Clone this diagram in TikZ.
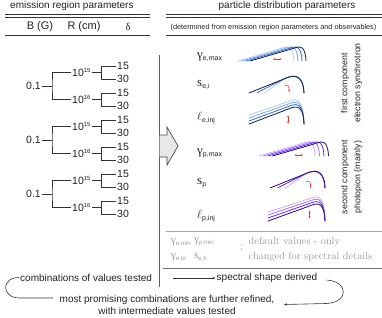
\documentclass[tikz,border=0pt]{standalone}
\usepackage{fontspec}
\setsansfont{Liberation Sans}
\newfontfamily\grk{Liberation Serif}
\usetikzlibrary{arrows.meta,calc}
\definecolor{ink}{HTML}{222222}
\definecolor{rule}{HTML}{333333}
\definecolor{lgray}{HTML}{AAAAAA}
\definecolor{tgray}{HTML}{9A9A9A}
\definecolor{b1}{HTML}{B3CFF3}
\definecolor{b2}{HTML}{7FA9E8}
\definecolor{b3}{HTML}{3F6FC6}
\definecolor{b4}{HTML}{1B2848}
\definecolor{p1}{HTML}{CDAEFF}
\definecolor{p2}{HTML}{A277F4}
\definecolor{p3}{HTML}{6B30E2}
\definecolor{p4}{HTML}{2F1672}
\definecolor{redar}{HTML}{E53935}
\newcommand\fsz[1]{\fontsize{#1}{#1}\selectfont}
\newcommand\supr[1]{\raisebox{4.2pt}{\fsz{6}#1}}
\newcommand\glab[2]{{\grk\fsz{13}#1}\raisebox{-2.3pt}{\fsz{7}#2}}
\newcommand\llab[1]{{\fsz{13}$\ell$}\raisebox{-2.3pt}{\fsz{7}#1}}
\newcommand\gglab[2]{{\grk\fsz{11}#1}\raisebox{-2pt}{\fsz{6}#2}}
\newcommand\spk[5]{\draw[spec,#1] #2 -- #3 .. controls ($#3!-0.2!#2$) and #4 .. #5;}
\tikzset{rtip/.tip={Stealth[length=2pt,width=2pt]}, btip/.tip={Stealth[length=3pt,width=2.4pt]}}
\begin{document}
\begin{tikzpicture}[x=1pt,y=-1pt,
  every node/.style={font=\sffamily, text=ink, inner sep=1pt},
  tnode/.style={font=\sffamily\fsz{10.5}},
  hdr/.style={font=\sffamily\fsz{11}},
  ttl/.style={font=\sffamily\fsz{10}},
  lab/.style={anchor=west},
  vtext/.style={rotate=90, align=center, font=\sffamily\fontsize{8.8}{13}\selectfont},
  gl/.style={anchor=west, text=tgray},
  gser/.style={text=tgray, font=\rmfamily\fontsize{10.3}{15}\selectfont},
  btxt/.style={font=\sffamily\fontsize{10}{12.5}\selectfont},
  rl/.style={draw=rule, line width=0.8pt},
  conn/.style={draw=rule, line width=0.6pt},
  spec/.style={line width=0.85pt, line cap=round, line join=round},
  redarr/.style={draw=redar, line width=0.6pt}
]
\useasboundingbox (0,0) rectangle (382,317);

% titles
\node[ttl, anchor=west] (t1) at (9,6) {emission region parameters};
\node[ttl] (t2) at (287,6) {particle distribution parameters};
\draw[rl] (5,14.8) -- (150,14.8);
\draw[rl] (5,17.8) -- (150,17.8);
\draw[rl] (166,14.8) -- (382,14.8);
\draw[rl] (166,17.8) -- (382,17.8);
\node[hdr] (hB) at (40,27) {B (G)};
\node[hdr] (hR) at (84,27) {R (cm)};
\node[hdr, font=\grk\fsz{10.5}] (hd) at (128,27) {δ};
\node[font=\sffamily\fsz{7.3}] (sub) at (273.5,28) {(determined from emission region parameters and observables)};
\draw[rl] (5,35.5) -- (150,35.5);
\draw[rl] (166,35.5) -- (382,35.5);

% tree
\foreach \g/\cy in {1/86,2/140,3/194} {
  \node[tnode, anchor=east] (b\g) at (42,\cy) {0.1};
  \node[tnode, anchor=west] (r\g a) at (71,\cy-13.5) {10\supr{15}};
  \node[tnode, anchor=west] (r\g b) at (71,\cy+13.5) {10\supr{16}};
  \node[tnode, anchor=west] (l\g a) at (116,\cy-20) {15};
  \node[tnode, anchor=west] (l\g b) at (116,\cy-7) {30};
  \node[tnode, anchor=west] (l\g c) at (116,\cy+7) {15};
  \node[tnode, anchor=west] (l\g d) at (116,\cy+20) {30};
  \draw[conn] (b\g.east) -- ++(10,0) coordinate (j\g);
  \draw[conn] (r\g a.west) -| (j\g) |- (r\g b.west);
  \draw[conn] (r\g a.east) -- ++(9.5,0) coordinate (ka\g);
  \draw[conn] (l\g a.west) -| (ka\g) |- (l\g b.west);
  \draw[conn] (r\g b.east) -- ++(9.5,0) coordinate (kb\g);
  \draw[conn] (l\g c.west) -| (kb\g) |- (l\g d.west);
}

% separator and block arrow
\draw[draw=rule!80, line width=0.9pt] (159.5,55) -- (159.5,287);
\draw[draw=rule!90, fill=black!9, line width=0.7pt, line join=miter]
  (159.5,135) -- (167,135) -- (167,127) -- (178,146) -- (167,165) -- (167,157) -- (159.5,157);

% labels
\node[lab] (lg1) at (196,57) {\glab{γ}{e,max}};
\node[lab] (ls1) at (196,85) {\glab{s}{e,i}};
\node[lab] (ll1) at (196,118) {\llab{e,inj}};
\node[lab] (lg2) at (196,153) {\glab{γ}{p,max}};
\node[lab] (ls2) at (196,183) {\glab{s}{p}};
\node[lab] (ll2) at (196,216) {\llab{p,inj}};
\node[vtext] (v1) at (351.5,83) {first component\\electron synchrotron};
\node[vtext] (v2) at (351.5,177) {second component\\photopion (mainly)};

% curves: gamma_max type
\begin{scope}[shift={(238,61)}]
  \foreach \i/\col in {0/b1,1/b2,2/b3,3/b4} {
    \spk{\col}{(4*\i,0)}{(40+4*\i,-11.6)}{(55+4*\i,-19)}{(56+4*\i,0)}
  }
\end{scope}
\begin{scope}[shift={(259,156)}]
  \foreach \i/\col in {0/p1,1/p2,2/p3,3/p4} {
    \spk{\col}{(4.5*\i,0)}{(40+4.5*\i,-11.6)}{(55+4.5*\i,-19)}{(56+4.5*\i,0)}
  }
\end{scope}
% slope type
\begin{scope}[shift={(249,93)}]
  \spk{b1}{(15,0.3)}{(36,-14.5)}{(54,-21)}{(55,0)}
  \spk{b3}{(8,-0.3)}{(36,-14.5)}{(54,-21)}{(55,0)}
  \spk{b4}{(0,0)}{(36,-14.5)}{(54,-21)}{(55,0)}
\end{scope}
\begin{scope}[shift={(270,188)}]
  \spk{p1}{(15,0.3)}{(36,-14.5)}{(54,-21)}{(55,0)}
  \spk{p3}{(8,-0.3)}{(36,-14.5)}{(54,-21)}{(55,0)}
  \spk{p4}{(0,0)}{(36,-14.5)}{(54,-21)}{(55,0)}
\end{scope}
% normalisation type
\begin{scope}[shift={(249,124)}]
  \foreach \i/\col in {3/b1,2/b2,1/b3,0/b4} {
    \spk{\col}{(0,-3*\i)}{(38,-14.5-2.5*\i)}{(54,-22-2.7*\i)}{(55,0)}
  }
\end{scope}
\begin{scope}[shift={(268,221)}]
  \foreach \i/\col in {3/p1,2/p2,1/p3,0/p4} {
    \spk{\col}{(0,-3*\i)}{(40,-14.5-2.5*\i)}{(56,-22-2.7*\i)}{(57,0)}
  }
\end{scope}

% red indicators
\draw[redarr, rtip-rtip] (273,59) -- (281.5,59);
\draw[redarr, rtip-rtip] (294.5,155) -- (303,155);
\draw[redarr, -rtip] (285,85.5) .. controls (288.8,85.5) .. (289.2,91.8);
\draw[redarr, -rtip] (306.5,181.5) .. controls (310.3,181.5) .. (310.7,187.8);
\draw[redarr, rtip-rtip] (288,115.5) -- (288,123.5);
\draw[redarr, rtip-rtip] (309.5,210.5) -- (309.5,218.5);

% default values block
\draw[draw=lgray, line width=0.8pt] (166,231) -- (382,231);
\node[gl] (gemin) at (170,242) {\gglab{γ}{e,min}};
\node[gl] (gpmin) at (193,242) {\gglab{γ}{p,min}};
\node[gl] (gebr) at (170,257) {\gglab{γ}{e,br}};
\node[gl] (seh) at (193,257) {\gglab{s}{e,h}};
\node[gser] (semi) at (241.5,248.5) {;};
\node[gser, anchor=west, align=left] (dv) at (247.5,249.5) {default values - only\\changed for spectral details};
\draw[draw=rule!70, line width=0.8pt] (163,268) -- (382,268);

% bottom flow
\node[btxt, anchor=west] (comb) at (19,277.5) {combinations of values tested};
\coordinate (ca) at (173,278);
\node[btxt, anchor=west] (sd) at (215.5,278) {spectral shape derived};
\draw[conn, -btip] (ca) -- (sd.west);
\node[btxt, align=center] (mp) at (167,305) {most promising combinations are further refined,\\with intermediate values tested};
\coordinate (lc) at (53,298);
\draw[conn] (comb.west) .. controls (1,277.5) and (1,298) .. (20,298) -- (lc);
\coordinate (rt) at (284,304.5);
\draw[conn, -btip] ($(sd.east)+(8,2)$) .. controls (348,281) and (350,302.5) .. (326,303.5) -- (rt);
\end{tikzpicture}
\end{document}
